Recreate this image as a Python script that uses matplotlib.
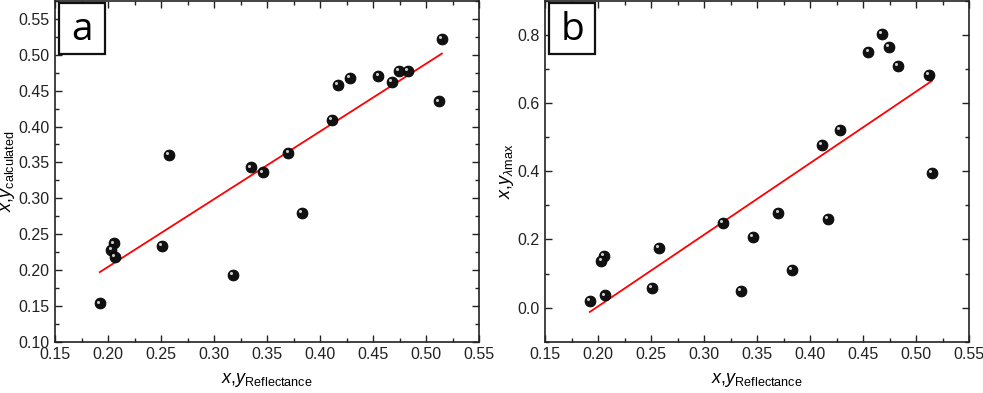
import matplotlib
matplotlib.use("Agg")
import matplotlib.pyplot as plt
import matplotlib.transforms as mtransforms
from matplotlib.patches import Rectangle
from matplotlib.ticker import MultipleLocator

plt.rcParams['font.family'] = ['Liberation Sans', 'DejaVu Sans']
plt.rcParams['mathtext.fontset'] = 'custom'
plt.rcParams['mathtext.rm'] = 'Liberation Sans'
plt.rcParams['mathtext.it'] = 'Liberation Sans:italic'

x_reflectance = [0.515, 0.5123, 0.483, 0.4745, 0.468, 0.455, 0.428, 0.417, 0.411,
                 0.370, 0.346, 0.335, 0.2574, 0.383, 0.3175, 0.251, 0.2057,
                 0.2029, 0.2064, 0.192]
y_calculated = [0.5226, 0.435, 0.4776, 0.478, 0.4627, 0.471, 0.4678, 0.458, 0.409,
                0.3634, 0.336, 0.343, 0.360, 0.280, 0.193, 0.2334, 0.237,
                0.228, 0.2185, 0.1535]
y_lambda_max = [0.396, 0.683, 0.7106, 0.766, 0.8026, 0.750, 0.521, 0.260, 0.478,
                0.2786, 0.2073, 0.049, 0.176, 0.1114, 0.249, 0.0587, 0.1525,
                0.138, 0.036, 0.0196]

fit_x = [0.192, 0.515]
fit_a = [0.197, 0.5017]
fit_b = [-0.0127, 0.6657]

W, H = 983, 393
fig = plt.figure(figsize=(W / 100, H / 100), dpi=100)

def axrect(l, r, t, b):
    return [l / W, 1 - b / H, (r - l) / W, (b - t) / H]

AX_L = [55.3, 545.3]
AX_R = [479, 969]
AX_T, AX_B = 1, 341.7
ax_a = fig.add_axes(axrect(AX_L[0], AX_R[0], AX_T, AX_B))
ax_b = fig.add_axes(axrect(AX_L[1], AX_R[1], AX_T, AX_B))

def sphere(ax, x, y):
    ax.plot(x, y, 'o', ls='none', ms=7.8, mfc='#111111', mec='black', mew=0.6, zorder=3)
    off = mtransforms.ScaledTranslation(-1.3 / 72, 1.3 / 72, fig.dpi_scale_trans)
    ax.plot(x, y, 'o', ls='none', ms=2.2, mfc='#cfcfcf', mec='none',
            transform=ax.transData + off, zorder=4)

for i, (ax, yv, fy, ylim, ymaj, ymin, ylab, tag) in enumerate([
        (ax_a, y_calculated, fit_a, (0.10, 0.575), 0.05, 0.025,
         r'$x$,$y_{\mathrm{calculated}}$', 'a'),
        (ax_b, y_lambda_max, fit_b, (-0.1, 0.9), 0.2, 0.1,
         r'$x$,$y_{\lambda\mathrm{max}}$', 'b')]):
    ax.plot(fit_x, fy, color='#ff0000', lw=1.3, zorder=2)
    sphere(ax, x_reflectance, yv)
    ax.set_xlim(0.15, 0.55)
    ax.set_ylim(*ylim)
    ax.xaxis.set_major_locator(MultipleLocator(0.05))
    ax.xaxis.set_minor_locator(MultipleLocator(0.025))
    ax.yaxis.set_major_locator(MultipleLocator(ymaj))
    ax.yaxis.set_minor_locator(MultipleLocator(ymin))
    if tag == 'a':
        ax.yaxis.set_major_formatter(plt.FormatStrFormatter('%.2f'))
    else:
        ax.yaxis.set_major_formatter(plt.FormatStrFormatter('%.1f'))
    ax.xaxis.set_major_formatter(plt.FormatStrFormatter('%.2f'))
    ax.tick_params(which='both', direction='in', top=True, right=True,
                   labelsize=11.5, colors='#222222', width=1.0)
    ax.tick_params(which='major', length=5)
    ax.tick_params(which='minor', length=3)
    ax.tick_params(axis='both', pad=4)
    for s in ax.spines.values():
        s.set_linewidth(1.2)
        s.set_color('#222222')
    ax.set_xlabel(r'$x$,$y_{\mathrm{Reflectance}}$', fontsize=13, labelpad=6)
    ax.set_ylabel(ylab, fontsize=13, labelpad=1)
    aw = AX_R[i] - AX_L[i]
    ah = AX_B - AX_T
    bx0 = 4 / aw
    bw = 46 / aw
    by1 = 1 - (3 - AX_T) / ah
    bh = 51 / ah
    ax.add_patch(Rectangle((bx0, by1 - bh), bw, bh, transform=ax.transAxes,
                           fc='white', ec='#111111', lw=1.6, zorder=5, clip_on=False))
    ax.text(bx0 + bw / 2, by1 - bh / 2 - 0.005, tag, transform=ax.transAxes,
            fontsize=28, family=['Open Sans', 'DejaVu Sans'], ha='center',
            va='center', zorder=6)

fig.savefig('out.png', dpi=100)
